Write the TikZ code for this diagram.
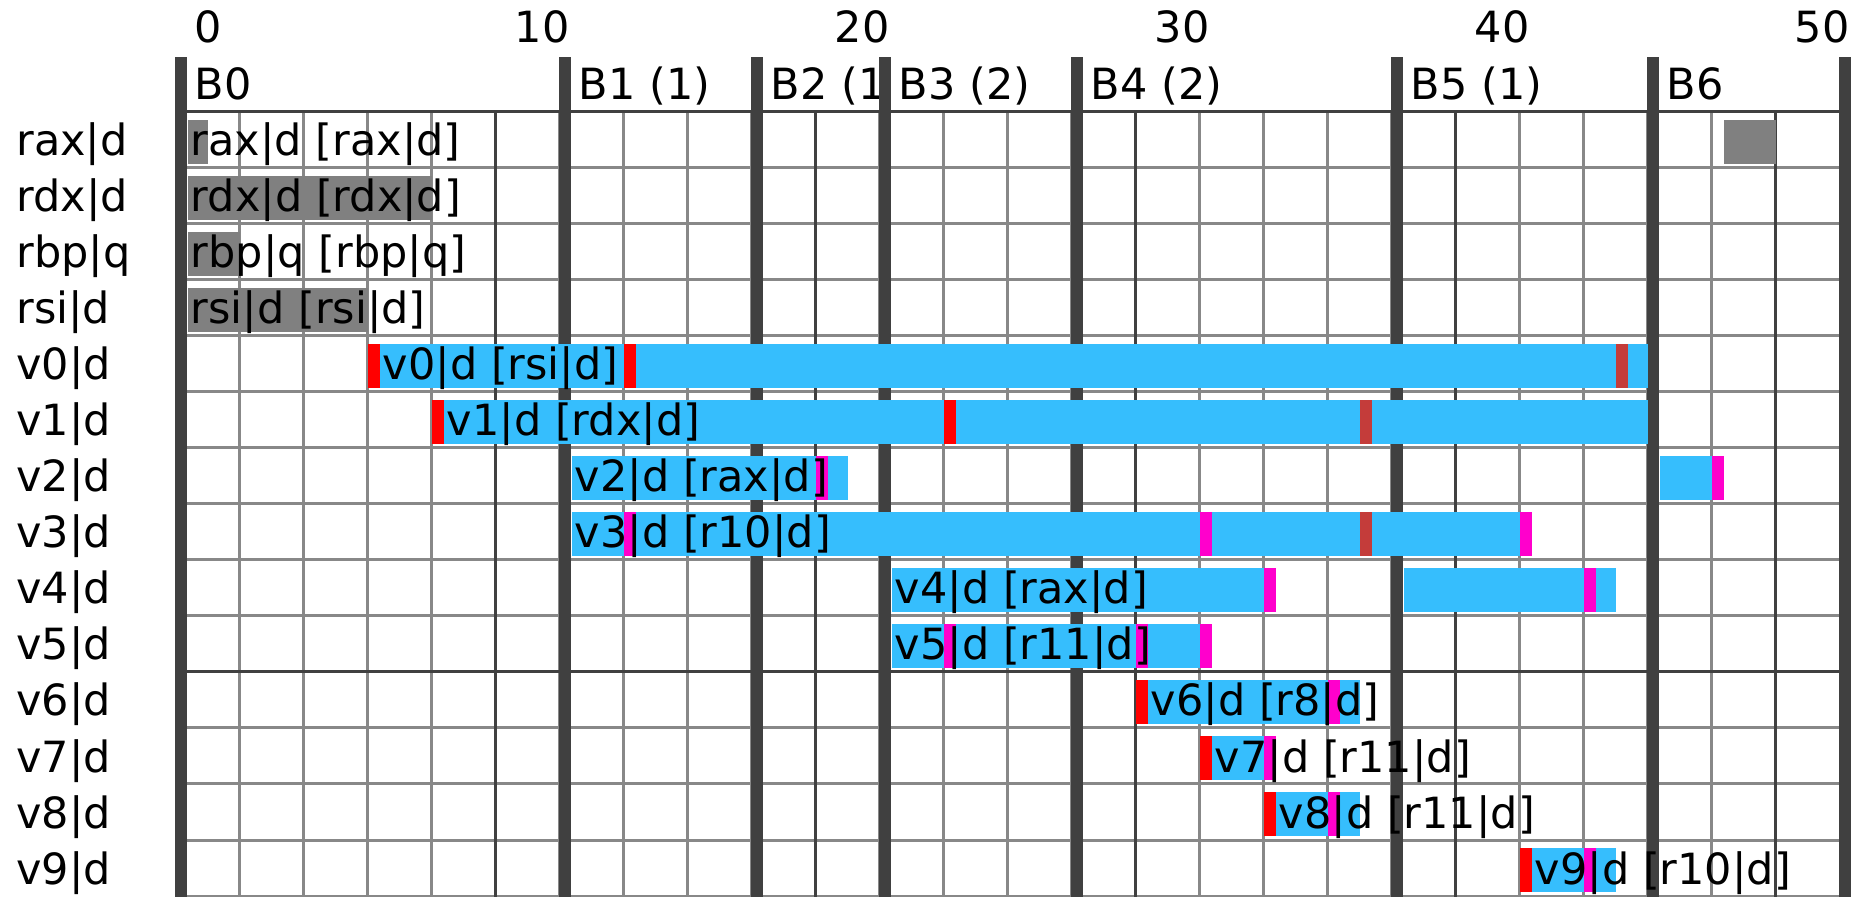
\documentclass[tikz,border=0pt]{standalone}
\usepackage{fontspec}
\setmainfont{DejaVu Sans}
\definecolor{ivblue}{RGB}{54,190,253}
\definecolor{defred}{RGB}{255,0,0}
\definecolor{usemag}{RGB}{255,0,204}
\definecolor{fixbrown}{RGB}{196,60,58}
\definecolor{fixgray}{RGB}{128,128,128}
\definecolor{rulethin}{RGB}{136,136,136}
\definecolor{ruledark}{RGB}{64,64,64}
% horizontal position of instruction slot #1 (in px)
\newcommand{\slotx}[1]{175.5+32*(#1)}
% one filled piece of a live range: row, from slot, to slot, colour
\newcommand{\ivseg}[4]{\fill[#4] ({\slotx{#2}},{120+56*(#1)}) rectangle ({\slotx{#3}},{164+56*(#1)});}
\begin{document}
\begin{tikzpicture}[x=0.5pt,y=-0.5pt,
  lbl/.style={font=\fontsize{21.5}{26}\selectfont, inner sep=0pt, text=black, anchor=base west},
  thinrule/.style={draw=rulethin, line width=1.5pt},
  darkrule/.style={draw=ruledark, line width=1.5pt},
  blockrule/.style={fill=ruledark}]
\useasboundingbox (0,0) rectangle (1859,897);
\fill[white] (0,0) rectangle (1859,897);

% grid: light lines every two slots and every row
\foreach \p in {2,4,...,50} \draw[thinrule] ({\slotx{\p}},112) -- ({\slotx{\p}},898);
\foreach \r in {1,...,14} \draw[thinrule] ({\slotx{0}},{112+56*\r}) -- ({\slotx{52}},{112+56*\r});
% dark lines every ten slots / ten rows
\foreach \p in {10,20,...,50} \draw[darkrule] ({\slotx{\p}},112) -- ({\slotx{\p}},898);
\draw[darkrule] ({\slotx{0}},112) -- ({\slotx{52}},112);
\draw[darkrule] ({\slotx{0}},672) -- ({\slotx{52}},672);

% block boundaries
\foreach \p in {0,12,18,22,28,38,46,52}
  \fill[blockrule] ({\slotx{\p}-1},57) rectangle ({\slotx{\p}+11},898);

% slot numbers
\foreach \p in {0,10,...,50}
  \node[lbl] (num\p) at ({\slotx{\p}+19},43) {\p};

% block names, each kept inside its own block
\foreach \a/\b/\name [count=\k from 0] in {0/12/B0,12/18/B1 (1),18/22/B2 (1),22/28/B3 (2),28/38/B4 (2),38/46/B5 (1),46/52/B6}{
  \begin{scope}
    \clip ({\slotx{\a}},50) rectangle ({\slotx{\b}-1},111);
    \node[lbl] (blk\k) at ({\slotx{\a}+19},100) {\name};
  \end{scope}
}

% fixed physical registers
\ivseg{0}{0.375}{1}{fixgray}
\ivseg{0}{48.375}{50}{fixgray}
\ivseg{1}{0.375}{8}{fixgray}
\ivseg{2}{0.375}{2}{fixgray}
\ivseg{3}{0.375}{6}{fixgray}

% v0
\ivseg{4}{6.375}{46}{ivblue}
\ivseg{4}{6}{6.375}{defred}
\ivseg{4}{14}{14.375}{defred}
\ivseg{4}{45}{45.375}{fixbrown}
% v1
\ivseg{5}{8.375}{46}{ivblue}
\ivseg{5}{8}{8.375}{defred}
\ivseg{5}{24}{24.375}{defred}
\ivseg{5}{37}{37.375}{fixbrown}
% v2
\ivseg{6}{12.375}{21}{ivblue}
\ivseg{6}{20}{20.375}{usemag}
\ivseg{6}{46.375}{48}{ivblue}
\ivseg{6}{48}{48.375}{usemag}
% v3
\ivseg{7}{12.375}{42}{ivblue}
\ivseg{7}{14}{14.375}{usemag}
\ivseg{7}{32}{32.375}{usemag}
\ivseg{7}{37}{37.375}{fixbrown}
\ivseg{7}{42}{42.375}{usemag}
% v4
\ivseg{8}{22.375}{34}{ivblue}
\ivseg{8}{34}{34.375}{usemag}
\ivseg{8}{38.375}{45}{ivblue}
\ivseg{8}{44}{44.375}{usemag}
% v5
\ivseg{9}{22.375}{32}{ivblue}
\ivseg{9}{24}{24.375}{usemag}
\ivseg{9}{30}{30.375}{usemag}
\ivseg{9}{32}{32.375}{usemag}
% v6
\ivseg{10}{30.375}{37}{ivblue}
\ivseg{10}{30}{30.375}{defred}
\ivseg{10}{36}{36.375}{usemag}
% v7
\ivseg{11}{32.375}{34}{ivblue}
\ivseg{11}{32}{32.375}{defred}
\ivseg{11}{34}{34.375}{usemag}
% v8
\ivseg{12}{34.375}{37}{ivblue}
\ivseg{12}{34}{34.375}{defred}
\ivseg{12}{36}{36.375}{usemag}
% v9
\ivseg{13}{42.375}{45}{ivblue}
\ivseg{13}{42}{42.375}{defred}
\ivseg{13}{44}{44.375}{usemag}

% row names and range captions
\foreach \r/\name/\s/\cap in {
  0/rax|d/0/rax|d [rax|d],
  1/rdx|d/0/rdx|d [rdx|d],
  2/rbp|q/0/rbp|q [rbp|q],
  3/rsi|d/0/rsi|d [rsi|d],
  4/v0|d/6/v0|d [rsi|d],
  5/v1|d/8/v1|d [rdx|d],
  6/v2|d/12/v2|d [rax|d],
  7/v3|d/12/v3|d [r10|d],
  8/v4|d/22/v4|d [rax|d],
  9/v5|d/22/v5|d [r11|d],
  10/v6|d/30/v6|d [r8|d],
  11/v7|d/32/v7|d [r11|d],
  12/v8|d/34/v8|d [r11|d],
  13/v9|d/42/v9|d [r10|d]}{
  \node[lbl] (row\r) at (16,{156+56*\r}) {\name};
  \node[lbl] (cap\r) at ({\slotx{\s}+15},{156+56*\r}) {\cap};
}
\end{tikzpicture}
\end{document}
